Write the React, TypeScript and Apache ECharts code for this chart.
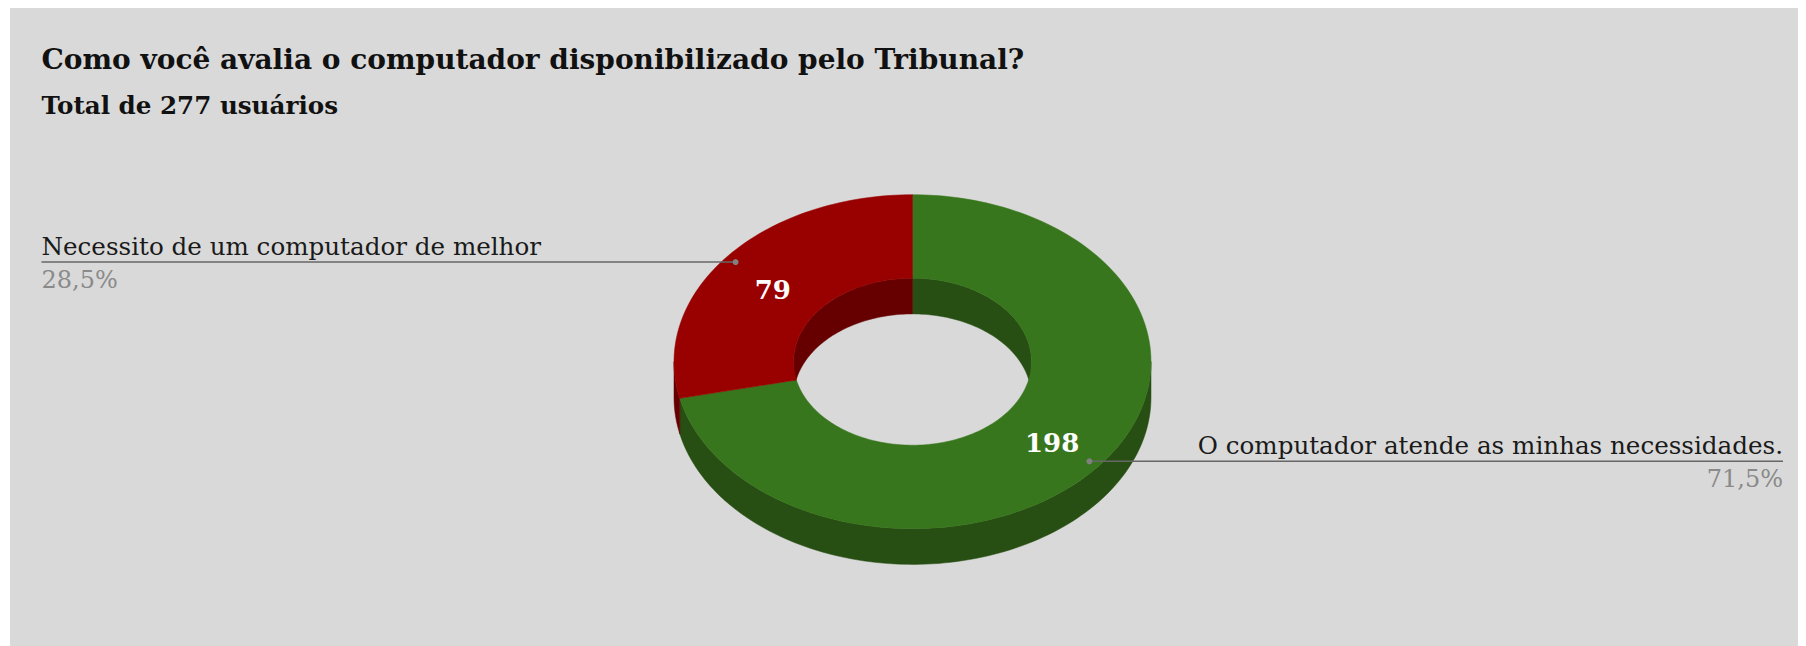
import React, { useEffect, useRef } from "react";
import * as echarts from "echarts";

const categories = ["O computador atende as minhas necessidades.", "Necessito de um computador de melhor"];
const values = [198, 79];
const percentLabels = ["71,5%", "28,5%"];
const topColors = ["#38761d", "#990000"];
const wallColors = ["#274e13", "#660000"];
const titleText = "Como você avalia o computador disponibilizado pelo Tribunal?";
const subtitleText = "Total de 277 usuários";

const OX = 10, OY = 8;
const CX = 912.5 - OX, CY = 361.7 - OY, RX = 238.5, RY = 167, IRX = 119, IRY = 83.5, DEPTH = 35.7;
const FONT = "'DejaVu Serif', serif";
const total = values.reduce((a, b) => a + b, 0);

function ang(i: number) {
  let s = 0;
  for (let k = 0; k < i; k++) s += values[k];
  return [(s / total) * 360, ((s + values[i]) / total) * 360];
}
function arc(a: number, b: number, rx: number, ry: number, dy = 0) {
  const pts: number[][] = [];
  const n = Math.max(2, Math.ceil(Math.abs(b - a) / 1.5));
  for (let j = 0; j <= n; j++) {
    const t = ((a + ((b - a) * j) / n) * Math.PI) / 180;
    pts.push([CX + rx * Math.sin(t), CY - ry * Math.cos(t) + dy]);
  }
  return pts;
}
function band(a: number, b: number, lo: number, hi: number, rx: number, ry: number, fill: string) {
  const s = Math.max(a, lo), e = Math.min(b, hi);
  if (e <= s) return null;
  return {
    type: "polygon",
    shape: { points: [...arc(s, e, rx, ry), ...arc(s, e, rx, ry, DEPTH).reverse()] },
    style: { fill, stroke: fill, lineWidth: 0.5 },
  };
}

export default function App() {
  const ref = useRef<HTMLDivElement>(null);
  useEffect(() => {
    const chart = echarts.init(ref.current!, undefined, { renderer: "svg" });
    const seriesData = values.map((v, i) => ({ name: categories[i], value: [i, v] }));
    chart.setOption({
      animation: false,
      backgroundColor: "#d9d9d9",
      title: [
        { text: titleText, left: 26.5, top: 32.5, textStyle: { fontFamily: FONT, fontSize: 28, fontWeight: "bold", color: "#111" } },
        { text: subtitleText, left: 26.5, top: 79.5, textStyle: { fontFamily: FONT, fontSize: 24.6, fontWeight: "bold", color: "#111" } },
      ],
      series: [
        {
          type: "custom", coordinateSystem: "none", data: seriesData, z: 1, silent: true,
          renderItem: (_p: any, api: any) => {
            const i = api.value(0);
            const [a, b] = ang(i);
            const fill = wallColors[i];
            const parts = [
              band(a, b, 90, 270, RX, RY, fill),
              band(a, b, 0, 90, IRX, IRY, fill),
              band(a, b, 270, 360, IRX, IRY, fill),
            ].filter(Boolean);
            return { type: "group", children: parts };
          },
        },
        {
          type: "custom", coordinateSystem: "none", data: seriesData, z: 2, silent: true,
          renderItem: (_p: any, api: any) => {
            const i = api.value(0);
            const [a, b] = ang(i);
            const fill = topColors[i];
            return {
              type: "polygon",
              shape: { points: [...arc(a, b, RX, RY), ...arc(a, b, IRX, IRY).reverse()] },
              style: { fill, stroke: fill, lineWidth: 0.5 },
            };
          },
        },
        {
          type: "custom", coordinateSystem: "none", data: seriesData, z: 3, silent: true,
          renderItem: (_p: any, api: any) => {
            const i = api.value(0);
            const v = api.value(1);
            const [a, b] = ang(i);
            const m = (((a + b) / 2) * Math.PI) / 180;
            const ax = CX + 0.95 * RX * Math.sin(m);
            const ay = CY - 0.955 * RY * Math.cos(m);
            const lx = CX + 0.75 * RX * Math.sin(m);
            const ly = CY - 0.735 * RY * Math.cos(m) + 4.5;
            const right = Math.sin(m) > 0;
            const edge = right ? 1783 - OX : 41.5 - OX;
            return {
              type: "group",
              children: [
                { type: "line", shape: { x1: ax, y1: ay, x2: edge, y2: ay }, style: { stroke: "#666666", lineWidth: 1.5 } },
                { type: "circle", shape: { cx: ax, cy: ay, r: 3 }, style: { fill: "#808080" } },
                { type: "text", x: lx, y: ly, style: { text: String(v), fill: "#ffffff", font: `bold 26px ${FONT}`, align: "center", verticalAlign: "middle" } },
                { type: "text", x: edge, y: ay - 3, style: { text: categories[i], fill: "#1a1a1a", font: `24.6px ${FONT}`, align: right ? "right" : "left", verticalAlign: "bottom" } },
                { type: "text", x: edge, y: ay + 6, style: { text: percentLabels[i], fill: "#8a8a8a", font: `24px ${FONT}`, align: right ? "right" : "left", verticalAlign: "top" } },
              ],
            };
          },
        },
      ],
    });
    return () => chart.dispose();
  }, []);
  return <div ref={ref} style={{ width: 1796, height: 638, marginLeft: 2 }} />;
}
